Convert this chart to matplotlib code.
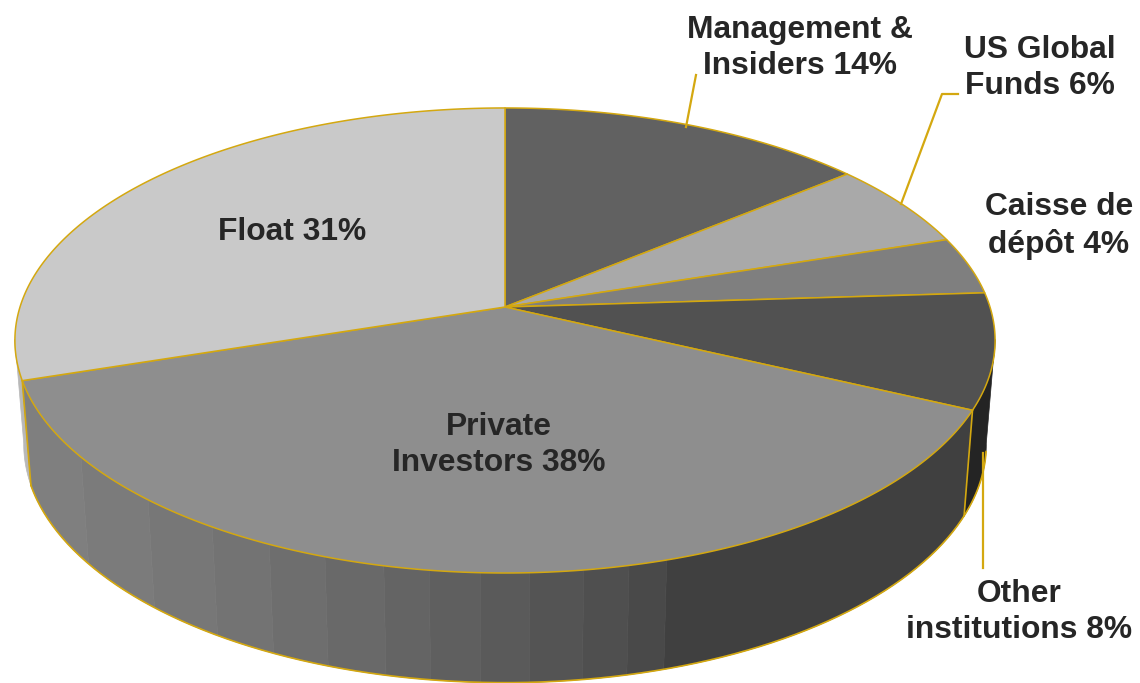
import numpy as np
import matplotlib
matplotlib.use("Agg")
import matplotlib.pyplot as plt

plt.rcParams['font.family'] = ['Liberation Sans', 'DejaVu Sans']

# slices clockwise from 12 o'clock (float slice measures 30% on the picture, label says 31%)
names = ["Management &\nInsiders 14%", "US Global\nFunds 6%", "Caisse de\ndépôt 4%",
         "Other\ninstitutions 8%", "Private\nInvestors 38%", "Float 31%"]
shares = [14, 6, 4, 8, 38, 30]
top_colors = ["#616161", "#a9a9a9", "#7f7f7f", "#515151", "#8e8e8e", "#c9c9c9"]
side_colors = ["#616161", "#a9a9a9", "#7f7f7f", "#242424", "#404040", "#b8b8b8"]

# shading facets along the front wall, in degrees clockwise from the top
facet_edges = [163.3, 167.3, 172, 177.5, 182.5, 187.7, 192.4, 198.7, 205, 212, 221, 233, 252]
facet_colors = ["#494949", "#4f4f4f", "#545454", "#5a5a5a", "#5f5f5f", "#646464",
                "#696969", "#6e6e6e", "#737373", "#777777", "#7b7b7b", "#7f7f7f"]

label_xy = [(800, 48), (1040, 68), (1059, 226), (1019, 612), (499, 445), (292, 232)]
leaders = [[(696, 75), (686, 127)],
           [(958, 94), (942, 94), (901, 204)],
           [(983, 453), (983, 568)]]

GOLD = "#d4a810"
TEXT = "#262626"

# perspective of the disc
CX, CY = 505, 307
RX, RY = 485, 227.7
K = 0.144


def top_point(deg):
    t = np.radians(deg)
    w = 1 + K * np.cos(t)
    return CX + RX * np.sin(t) / w, CY - RY * np.cos(t) / w


def low_point(deg):
    x, y = top_point(deg)
    return CX + (x - CX) * 0.982, CY + (y - CY) * 1.025 + 103


def arc(a, b, func=top_point):
    n = max(int(abs(b - a) * 2), 2)
    return func(np.linspace(a, b, n))


def wall(ax, a, b, color):
    xt, yt = arc(a, b)
    xl, yl = arc(a, b, low_point)
    ax.fill(np.r_[xt, xl[::-1]], np.r_[yt, yl[::-1]], color=color, lw=0.5, zorder=1)


def main():
    fig = plt.figure(figsize=(11.4, 6.83), dpi=100)
    ax = fig.add_axes([0, 0, 1, 1])
    ax.set_xlim(0, 1140)
    ax.set_ylim(683, 0)
    ax.axis("off")

    edges = np.r_[0, np.cumsum(shares)] * 360 / 100

    # walls, the end ones run on to where the outline turns back
    wall(ax, edges[5], 262, side_colors[5])
    wall(ax, 98, edges[4], side_colors[3])
    wall(ax, edges[4], facet_edges[0], side_colors[4])
    for i in range(len(facet_colors)):
        wall(ax, facet_edges[i], facet_edges[i + 1], facet_colors[i])

    # gold edges of the walls
    xl, yl = arc(100, edges[5], low_point)
    ax.plot(xl, yl, color=GOLD, lw=1.2, zorder=2)
    for a in [edges[4], edges[5]]:
        x0, y0 = top_point(a)
        x1, y1 = low_point(a)
        ax.plot([x0, x1], [y0, y1], color=GOLD, lw=1.2, zorder=2)

    # top of the pie
    for i in range(len(shares)):
        x, y = arc(edges[i], edges[i + 1])
        ax.fill(np.r_[CX, x], np.r_[CY, y], facecolor=top_colors[i],
                edgecolor=GOLD, lw=1.1, joinstyle="round", zorder=3)

    for pts in leaders:
        xs, ys = zip(*pts)
        ax.plot(xs, ys, color=GOLD, lw=1.6, zorder=4)

    for name, (x, y) in zip(names, label_xy):
        ax.text(x, y, name, ha="center", va="center", fontsize=22.9, fontweight="bold",
                color=TEXT, linespacing=1.27, zorder=5)

    fig.savefig("out.png", dpi=100)


if __name__ == "__main__":
    main()
